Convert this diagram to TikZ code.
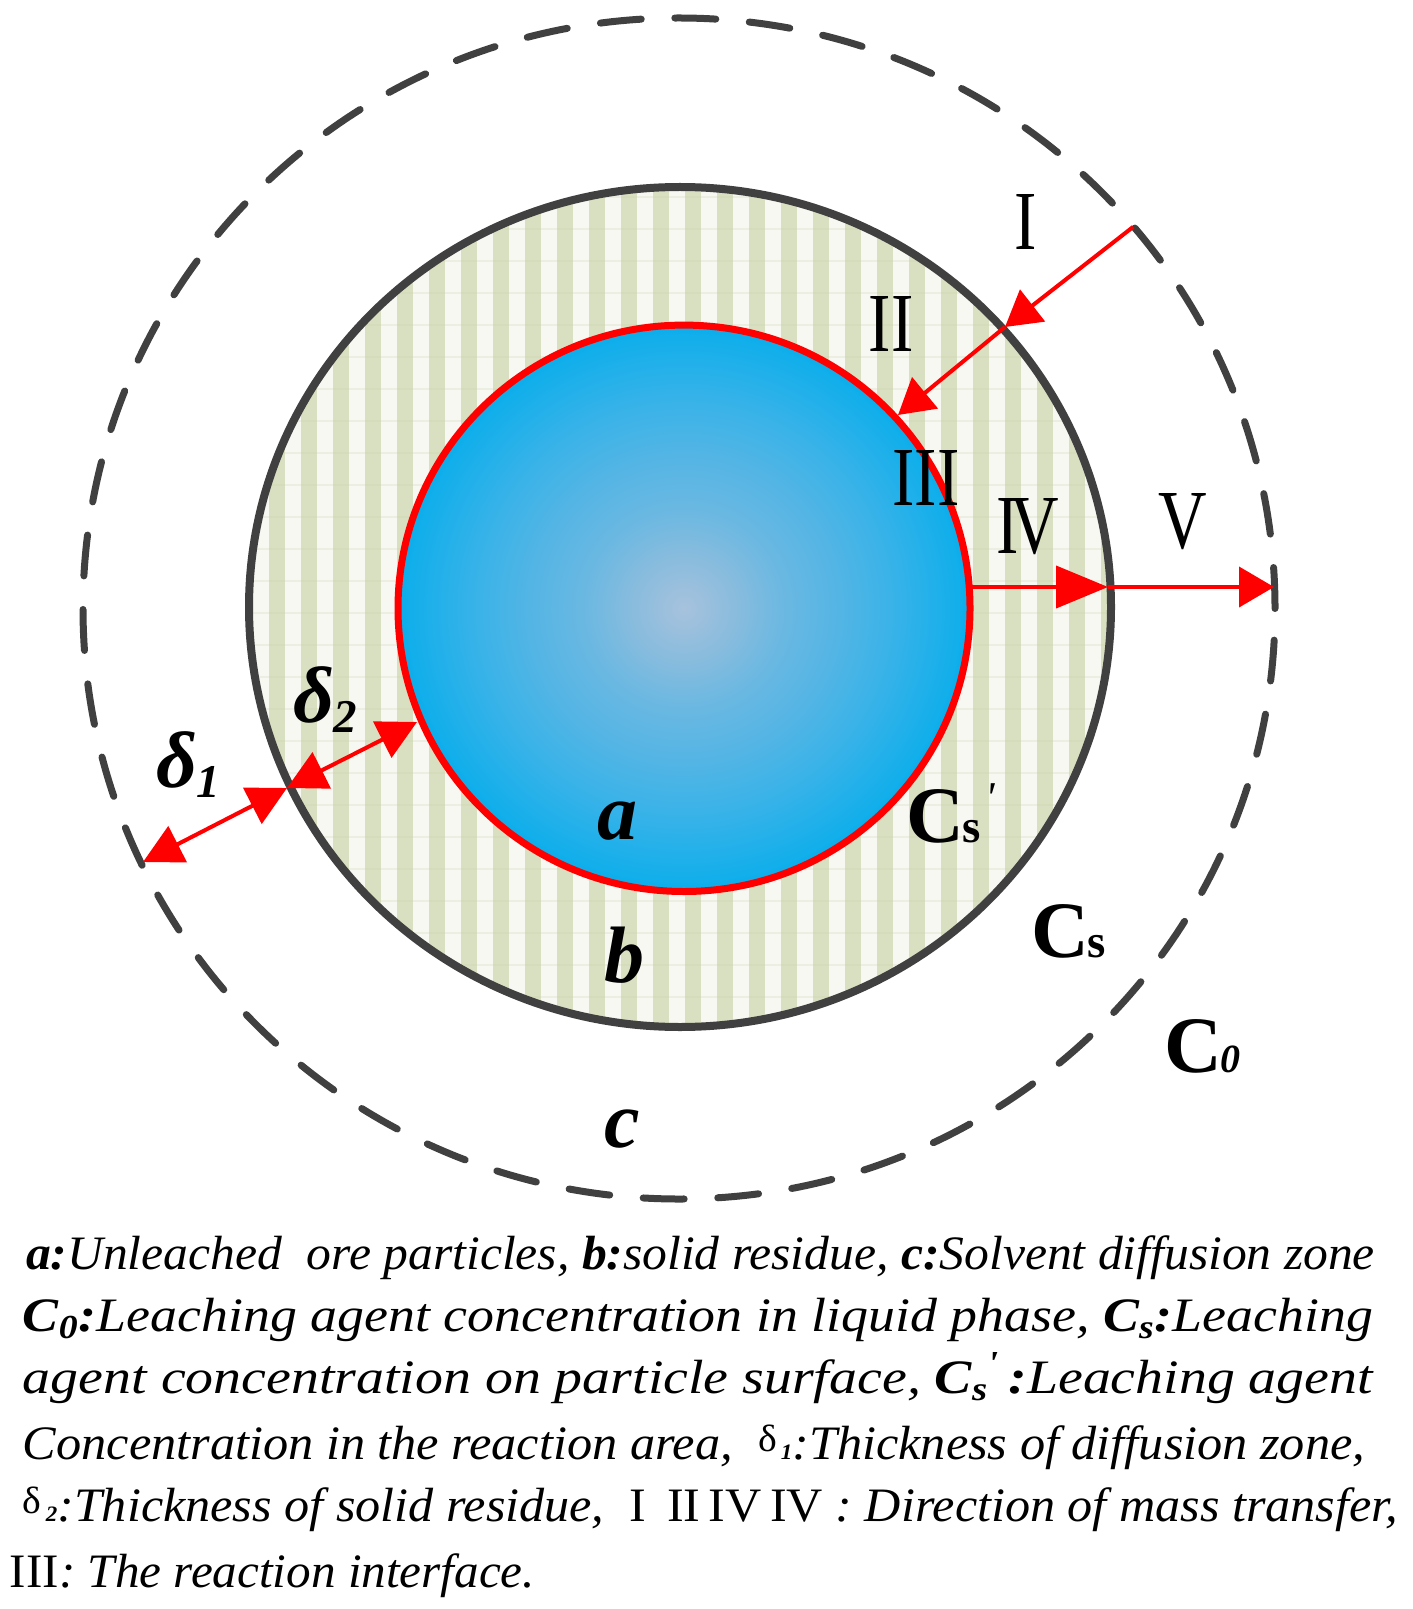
\documentclass[tikz,border=0pt]{standalone}
\usepackage{fontspec}
\usepackage{graphicx}
\setmainfont{Liberation Serif}
\usetikzlibrary{arrows.meta}
\definecolor{dgray}{HTML}{404040}
\definecolor{stripeG}{HTML}{D9E0C1}
\definecolor{stripeW}{HTML}{F7F8F2}
\definecolor{gridln}{HTML}{C9D1AC}
\definecolor{bA}{HTML}{A7C2DD}
\definecolor{bB}{HTML}{8ABCDD}
\definecolor{bC}{HTML}{6AB8E2}
\definecolor{bD}{HTML}{55B5E4}
\definecolor{bE}{HTML}{3CB3E8}
\definecolor{bF}{HTML}{20B0EA}
\definecolor{bG}{HTML}{0BAEEB}
\pgfdeclareradialshading{orb}{\pgfpoint{0bp}{0bp}}{color(0bp)=(bA); color(4.4bp)=(bB); color(8.8bp)=(bC); color(13.2bp)=(bD); color(17.7bp)=(bE); color(22bp)=(bF); color(25bp)=(bG); color(50bp)=(bG)}
\newcommand\labfont{\fontsize{40pt}{40pt}\selectfont\bfseries\itshape}
\newcommand\romfont{\fontsize{42pt}{42pt}\selectfont\mdseries\upshape}
\newcommand\lgfont{\fontsize{24pt}{24pt}\selectfont\itshape}
\newcommand\lgdelta{\raisebox{4pt}{\upshape\mdseries\fontsize{19pt}{19pt}\selectfont δ}}
\newcommand\lgsub[1]{{\fontsize{11pt}{11pt}\selectfont\bfseries\itshape #1}}
\newcommand\subsz[1]{{\fontsize{23.5pt}{23.5pt}\selectfont #1}}
\begin{document}
\begin{tikzpicture}[x=0.5pt,y=-0.5pt,
  every node/.style={inner sep=0pt, outer sep=0pt},
  rarrow/.style={red, line width=2pt, -{Triangle[length=17.5pt,width=20pt]}},
  rarrowlong/.style={red, line width=2pt, -{Triangle[length=26pt,width=21pt]}},
  rdarrow/.style={red, line width=2pt, {Triangle[length=19.5pt,width=20pt]}-{Triangle[length=19.5pt,width=20pt]}},
  rom/.style={anchor=base, font=\romfont},
  lab/.style={anchor=base, font=\labfont},
  lg/.style={anchor=base west}]
\useasboundingbox (0,0) rectangle (1412,1609);

% outer dashed boundary (diffusion zone)
\draw[dgray, line width=3.5pt, line cap=round, dash pattern=on 20.5pt off 16.8pt]
  (679,608.5) ellipse [x radius=298pt, y radius=295.25pt];

% striped solid residue layer
\begin{scope}
  \clip (680,607) ellipse [x radius=215.5pt, y radius=210pt];
  \fill[stripeW] (230,180) rectangle (1130,1040);
  \foreach \k in {0,...,27}
    \fill[stripeG] ({237.3+32*\k},180) rectangle ({253.3+32*\k},1040);
  \foreach \j in {0,...,26}
    \draw[gridln, line width=0.6pt, opacity=0.25] (230,{197+32*\j}) -- (1130,{197+32*\j});
\end{scope}
\draw[dgray, line width=4pt] (680,607) ellipse [x radius=215.5pt, y radius=210pt];

% unleached core
\shade[shading=orb] (684,608.3) ellipse [x radius=143pt, y radius=141.6pt];
\draw[red, line width=3.5pt] (684,608.3) ellipse [x radius=143pt, y radius=141.6pt];

% connector end points
\coordinate (pI0) at (1133,227);
\coordinate (pI1) at (1005,327);
\coordinate (pII1) at (898,415);
\coordinate (pIV0) at (969,587);
\coordinate (pIV1) at (1108,587);
\coordinate (pV1) at (1274,587);
\coordinate (d1a) at (143,862);
\coordinate (d1b) at (287,788);
\coordinate (d2b) at (417,722);

\draw[rarrow] (pI0) -- (pI1);
\draw[rarrow] (pI1) -- (pII1);
\draw[rarrowlong] (pIV0) -- (pIV1);
\draw[rarrow] (pIV1) -- (pV1);
\draw[rdarrow] (d1a) -- (d1b);
\draw[rdarrow] (d1b) -- (d2b);

% roman numerals
\node[rom] (nI) at (1026,250) {\scalebox{0.8}[1]{I}};
\node[rom] (nII) at (891,352) {\scalebox{0.8}[1]{II}};
\node[rom] (nIII) at (926,505) {\scalebox{0.8}[1]{III}};
\node[rom] (nIV) at (1028,553) {\scalebox{0.8}[1]{I\kern-5pt V}};
\node[rom] (nV) at (1183,548) {\scalebox{0.8}[1]{V}};

% zone letters
\node[lab] (la) at (617,839) {a};
\node[lab] (lb) at (624,982) {b};
\node[lab] (lc) at (622,1147) {c};

% concentrations
\node[anchor=base west] (lcs1) at (906,842) {\labfont\upshape C\kern-0.5pt\subsz{s}\kern2pt\raisebox{15pt}{\fontsize{22pt}{22pt}\selectfont\mdseries\itshape\textquotesingle}};
\node[anchor=base west] (lcs) at (1031,957) {\labfont\upshape C\kern-0.5pt\subsz{s}};
\node[anchor=base west] (lc0) at (1164,1072) {\labfont\upshape C\kern-0.5pt{\fontsize{20pt}{20pt}\selectfont\itshape 0}};

% thicknesses
\node[anchor=base west] (ld1) at (156,787) {\labfont δ\raisebox{-5pt}{\fontsize{23.5pt}{23.5pt}\selectfont 1}};
\node[anchor=base west] (ld2) at (293,722) {\labfont δ\raisebox{-5pt}{\fontsize{23.5pt}{23.5pt}\selectfont 2}};

% legend
\node[lg] (L1) at (26,1269) {\resizebox{674.5pt}{\height}{\lgfont\textbf{a:}Unleached\ \ ore particles, \textbf{b:}solid residue, \textbf{c:}Solvent diffusion zone}};
\node[lg] (L2) at (23,1331) {\resizebox{675pt}{\height}{\lgfont\textbf{C\textsubscript{0}:}Leaching agent concentration in liquid phase, \textbf{C\textsubscript{s}:}Leaching}};
\node[lg] (L3) at (23,1393) {\resizebox{675pt}{\height}{\lgfont agent concentration on particle surface, \textbf{C\textsubscript{s}\kern-0.5pt\textsuperscript{\textquotesingle}}\,\textbf{:}Leaching agent}};
\node[lg] (L4) at (23,1459) {\resizebox{671pt}{\height}{\lgfont Concentration in the reaction area,\hspace{12pt}\lgdelta\hspace{2pt}\lgsub{1}:Thickness of diffusion zone,}};
\node[lg] (L5) at (23,1521) {\resizebox{687.5pt}{\height}{\lgfont \lgdelta\hspace{2pt}\lgsub{2}:Thickness of solid residue,\hspace{12pt}{\upshape I\hspace{10pt}II\,IV\,IV}\hspace{6pt}: Direction of mass transfer,}};
\node[lg] (L6) at (10,1587) {\resizebox{262.5pt}{\height}{\lgfont{\upshape III}: The reaction interface.}};
\end{tikzpicture}
\end{document}
